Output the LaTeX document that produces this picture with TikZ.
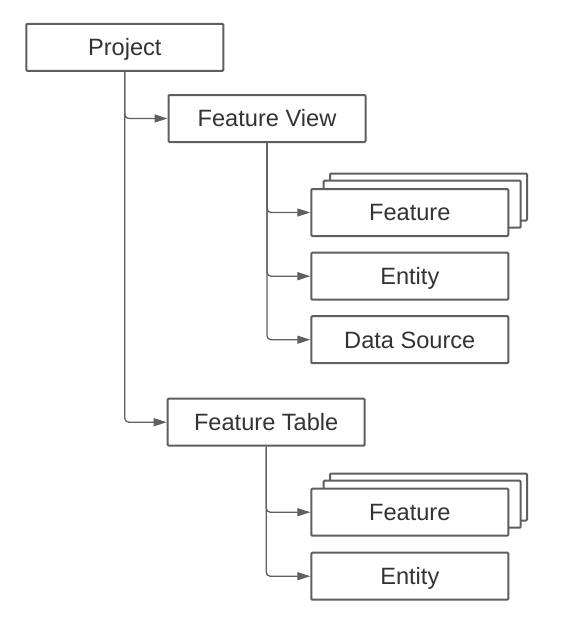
\documentclass[tikz,border=0pt]{standalone}
\usepackage{fontspec}
\setmainfont{Liberation Sans}
\usetikzlibrary{arrows.meta}
\definecolor{edge}{HTML}{5F5F5F}
\definecolor{txt}{HTML}{333333}
\begin{document}
\begin{tikzpicture}[x=1pt,y=-1pt,
  box/.style={draw=edge, line width=2pt, fill=white, rounded corners=1pt,
    minimum width=197pt, minimum height=47pt, inner sep=0pt, text=txt,
    text height=16.9pt, text depth=0pt,
    font=\fontsize{23.6}{28}\selectfont},
  link/.style={draw=edge, line width=1.3pt, rounded corners=4pt,
    -{Triangle[length=13pt,width=8pt]}}]
\useasboundingbox (0,0) rectangle (573,642);

\node[box] (proj) at (124.8,47.3) {Project};
\node[box] (fv) at (267,118.5) {Feature View};

\node[box] (fa3) at (428.5,197) {};
\node[box] (fa2) at (422.2,204.2) {};
\node[box] (fa) at (409.8,212.5) {Feature};
\node[box] (ea) at (409.8,276.2) {Entity};
\node[box] (ds) at (409.8,339.7) {Data Source};

\node[box] (ft) at (266.2,422.2) {Feature Table};

\node[box] (fb3) at (428.5,497) {};
\node[box] (fb2) at (422.2,504.2) {};
\node[box] (fb) at (409.8,512.2) {Feature};
\node[box] (eb) at (409.8,576.2) {Entity};

\draw[link] (proj.south) |- (fv.west);
\draw[link] (proj.south) |- (ft.west);
\draw[link] (fv.south) |- (fa.west);
\draw[link] (fv.south) |- (ea.west);
\draw[link] (fv.south) |- (ds.west);
\draw[link] (ft.south) |- (fb.west);
\draw[link] (ft.south) |- (eb.west);
\end{tikzpicture}
\end{document}
